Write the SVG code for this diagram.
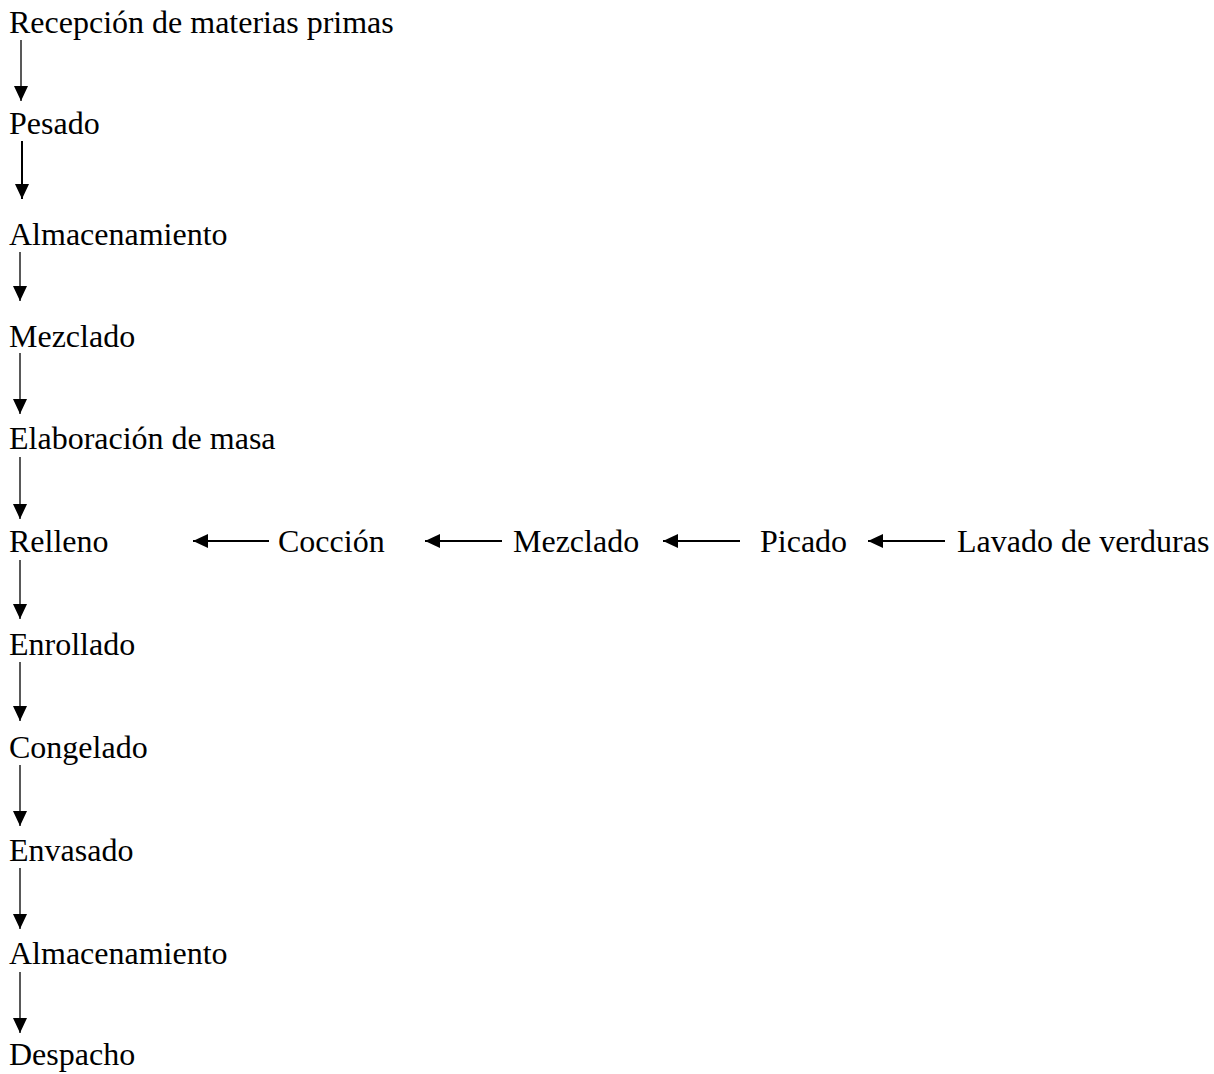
<svg xmlns="http://www.w3.org/2000/svg" width="1214" height="1074" viewBox="0 0 1214 1074">
<style>
text{font-family:"Liberation Serif","Times New Roman",serif;font-size:32px;fill:#000}
.v{stroke:#222;stroke-width:1.5;fill:none}
.vb{stroke:#000;stroke-width:2;fill:none}
.h{stroke:#000;stroke-width:2.2;fill:none}
</style>
<defs>
<marker id="ah" markerUnits="userSpaceOnUse" markerWidth="15" markerHeight="14" refX="15" refY="7" orient="auto" viewBox="0 0 15 14">
<path d="M0,0 L15,7 L0,14 Z" fill="#000"/>
</marker>
</defs>
<rect width="1214" height="1074" fill="#fff"/>
<g id="n1"><text x="9" y="33">Recepción de materias primas</text></g>
<g id="n2"><text x="9" y="134">Pesado</text></g>
<g id="n3"><text x="9" y="245">Almacenamiento</text></g>
<g id="n4"><text x="9" y="347">Mezclado</text></g>
<g id="n5"><text x="9" y="449">Elaboración de masa</text></g>
<g id="n6"><text x="9" y="552">Relleno</text></g>
<g id="n7"><text x="9" y="655">Enrollado</text></g>
<g id="n8"><text x="9" y="758">Congelado</text></g>
<g id="n9"><text x="9" y="861">Envasado</text></g>
<g id="n10"><text x="9" y="964">Almacenamiento</text></g>
<g id="n11"><text x="9" y="1065">Despacho</text></g>
<g id="s1"><text x="278" y="552">Cocción</text></g>
<g id="s2"><text x="513" y="552">Mezclado</text></g>
<g id="s3"><text x="760" y="552">Picado</text></g>
<g id="s4"><text x="957" y="552">Lavado de verduras</text></g>
<g id="connectors">
<line class="v" x1="21" y1="40" x2="21" y2="101" marker-end="url(#ah)"/>
<line class="vb" x1="22" y1="141" x2="22" y2="199" marker-end="url(#ah)"/>
<line class="v" x1="20" y1="252" x2="20" y2="301" marker-end="url(#ah)"/>
<line class="v" x1="20" y1="353" x2="20" y2="414" marker-end="url(#ah)"/>
<line class="v" x1="20" y1="457" x2="20" y2="519" marker-end="url(#ah)"/>
<line class="v" x1="20" y1="560" x2="20" y2="619" marker-end="url(#ah)"/>
<line class="v" x1="20" y1="662" x2="20" y2="721" marker-end="url(#ah)"/>
<line class="v" x1="20" y1="765" x2="20" y2="826" marker-end="url(#ah)"/>
<line class="v" x1="20" y1="868" x2="20" y2="929" marker-end="url(#ah)"/>
<line class="v" x1="20" y1="972" x2="20" y2="1033" marker-end="url(#ah)"/>
<line class="h" x1="269" y1="541" x2="193" y2="541" marker-end="url(#ah)"/>
<line class="h" x1="502" y1="541" x2="425" y2="541" marker-end="url(#ah)"/>
<line class="h" x1="740" y1="541" x2="663" y2="541" marker-end="url(#ah)"/>
<line class="h" x1="945" y1="541" x2="868" y2="541" marker-end="url(#ah)"/>
</g>
</svg>
